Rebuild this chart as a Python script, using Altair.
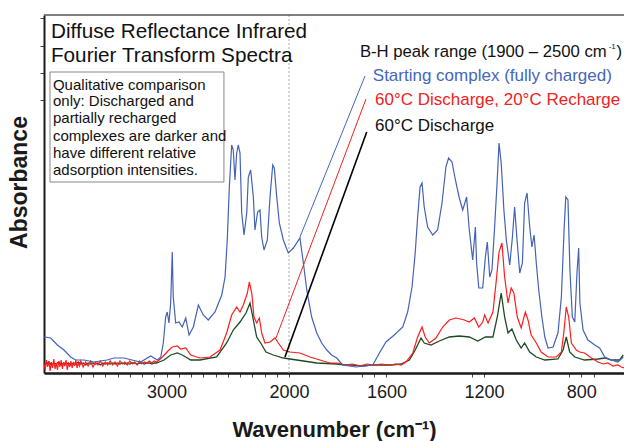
import altair as alt
import pandas as pd

# ---- spectra: (wavenumber cm-1, absorbance a.u.) ----
blue = [(4000,0.36),(3990,0.36),(3945,0.35),(3891,0.28),(3837,0.23),(3782,0.16),(3741,0.13),(3673,0.13),
        (3592,0.11),(3486,0.13),(3429,0.15),(3347,0.15),(3282,0.13),(3211,0.11),(3129,0.17),(3075,0.13),
        (3047,0.16),(3026,0.30),(3007,0.56),(2994,0.61),(2980,0.50),(2966,0.70),(2953,1.21),(2945,0.76),
        (2925,0.50),(2898,0.51),(2871,0.46),(2843,0.55),(2816,0.38),(2781,0.46),(2740,0.68),(2700,0.58),
        (2659,0.53),(2604,0.61),(2549,0.78),(2522,0.96),(2504,1.33),(2487,1.86),(2468,2.28),(2455,2.23),
        (2441,1.93),(2427,2.20),(2414,2.28),(2400,2.20),(2386,1.60),(2367,1.38),(2345,1.60),(2332,1.96),
        (2313,2.03),(2291,1.76),(2278,1.43),(2256,1.61),(2237,1.63),(2223,1.36),(2204,1.23),(2177,1.33),
        (2155,1.76),(2133,2.08),(2120,2.05),(2100,1.76),(2079,1.50),(2046,1.33),(2006,1.20),(1982,1.25),
        (1955,1.35),(1941,1.10),(1927,0.83),(1907,0.56),(1886,0.40),(1866,0.30),(1845,0.23),(1825,0.18),
        (1804,0.15),(1780,0.08),(1725,0.06),(1656,0.08),(1629,0.20),(1602,0.31),(1568,0.38),(1533,0.46),
        (1513,0.61),(1495,0.86),(1482,1.20),(1472,1.56),(1462,1.86),(1454,1.90),(1445,1.66),(1431,1.46),
        (1410,1.38),(1390,1.43),(1372,1.70),(1356,2.06),(1345,2.15),(1331,2.11),(1317,1.93),(1301,1.75),
        (1287,1.63),(1271,1.76),(1260,1.43),(1246,1.13),(1235,1.46),(1230,1.10),(1221,0.85),(1205,0.85),
        (1194,1.16),(1186,1.31),(1176,0.96),(1167,1.03),(1156,1.46),(1146,1.90),(1138,2.30),(1129,2.10),
        (1118,1.63),(1108,1.33),(1094,1.08),(1083,1.36),(1074,1.66),(1064,1.33),(1053,1.00),(1042,1.10),
        (1033,1.70),(1023,1.80),(1012,1.46),(1003,1.26),(994,1.38),(985,1.10),(975,0.83),(962,0.56),
        (950,0.36),(937,0.25),(916,0.26),(896,0.40),(882,0.76),(871,1.43),(864,1.76),(855,1.73),
        (847,1.03),(837,0.56),(827,0.51),(818,1.00),(811,1.25),(806,0.70),(793,0.43),(773,0.33),
        (745,0.28),(725,0.25),(704,0.16),(677,0.13),(650,0.11),(628,0.16)]

red = [(4000,0.09),(3990,0.03),(3980,0.13),(3970,0.06),(3960,0.12),(3950,0.02),(3940,0.11),(3930,0.05),
       (3920,0.14),(3910,0.04),(3900,0.10),(3890,0.03),(3880,0.12),(3870,0.06),(3860,0.13),(3850,0.04),
       (3840,0.11),(3830,0.07),(3820,0.13),(3810,0.03),(3800,0.10),(3790,0.06),(3780,0.12),(3770,0.05),
       (3760,0.11),(3750,0.07),(3740,0.13),(3730,0.05),(3720,0.10),(3710,0.07),(3700,0.12),(3680,0.06),
       (3660,0.11),(3640,0.07),(3620,0.12),(3600,0.06),(3580,0.11),(3560,0.08),(3540,0.12),(3520,0.07),
       (3500,0.11),(3480,0.08),(3460,0.12),(3440,0.08),(3420,0.11),(3400,0.07),(3380,0.12),(3360,0.09),
       (3340,0.11),(3320,0.08),(3300,0.12),(3280,0.09),(3260,0.11),(3240,0.08),(3220,0.12),(3200,0.09),
       (3180,0.11),(3160,0.10),(3140,0.12),(3120,0.10),(3100,0.12),(3080,0.11),(3060,0.13),(3034,0.16),
       (2980,0.23),(2953,0.26),(2912,0.27),(2884,0.24),(2843,0.25),(2802,0.18),(2727,0.15),(2645,0.16),
       (2563,0.23),(2509,0.40),(2468,0.58),(2427,0.66),(2400,0.61),(2373,0.68),(2340,0.80),(2324,0.91),
       (2304,0.80),(2286,0.56),(2264,0.50),(2242,0.55),(2223,0.40),(2196,0.30),(2155,0.31),(2114,0.35),
       (2087,0.30),(2046,0.23),(1996,0.21),(1955,0.20),(1914,0.16),(1873,0.13),(1832,0.10),(1798,0.10),
       (1770,0.08),(1740,0.09),(1710,0.07),(1680,0.09),(1650,0.08),(1620,0.09),(1590,0.08),(1560,0.09),
       (1540,0.08),(1520,0.11),(1492,0.20),(1472,0.36),(1454,0.46),(1441,0.36),(1424,0.30),(1397,0.35),
       (1369,0.46),(1342,0.53),(1315,0.55),(1280,0.53),(1260,0.51),(1239,0.55),(1221,0.46),(1205,0.51),
       (1197,0.58),(1183,0.50),(1163,0.61),(1149,0.93),(1138,1.21),(1126,1.30),(1115,0.96),(1101,0.70),
       (1088,0.85),(1077,0.80),(1063,0.56),(1047,0.45),(1030,0.61),(1019,0.53),(1006,0.38),(985,0.30),
       (965,0.21),(937,0.16),(903,0.16),(882,0.21),(871,0.43),(862,0.66),(852,0.56),(841,0.30),
       (821,0.23),(807,0.21),(787,0.20),(759,0.15),(732,0.11),(710,0.09),(691,0.10),(670,0.07),
       (650,0.08),(636,0.06),(625,0.05)]

black = [(4000,0.10),(3980,0.09),(3960,0.11),(3940,0.08),(3920,0.10),(3900,0.09),(3880,0.11),(3860,0.08),
         (3840,0.10),(3820,0.09),(3800,0.10),(3780,0.08),(3760,0.10),(3740,0.09),(3720,0.11),(3700,0.09),
         (3680,0.10),(3660,0.08),(3640,0.10),(3620,0.09),(3600,0.10),(3580,0.09),(3560,0.10),(3540,0.08),
         (3520,0.10),(3500,0.09),(3480,0.10),(3460,0.09),(3440,0.10),(3420,0.09),(3400,0.10),(3380,0.09),
         (3360,0.10),(3340,0.09),(3320,0.10),(3300,0.09),(3280,0.10),(3260,0.10),(3240,0.09),(3220,0.10),
         (3200,0.10),(3180,0.09),(3160,0.10),(3140,0.10),(3120,0.09),(3100,0.10),(3080,0.10),(3060,0.11),
         (3020,0.13),(2966,0.18),(2912,0.20),(2871,0.18),(2802,0.13),(2727,0.13),(2590,0.16),(2509,0.30),
         (2455,0.43),(2400,0.51),(2351,0.60),(2318,0.70),(2291,0.53),(2264,0.36),(2231,0.30),(2188,0.21),
         (2128,0.18),(2046,0.15),(1968,0.13),(1886,0.10),(1804,0.09),(1770,0.08),(1740,0.08),(1700,0.07),
         (1660,0.08),(1620,0.08),(1580,0.08),(1540,0.09),(1506,0.13),(1482,0.23),(1458,0.35),(1445,0.30),
         (1417,0.28),(1383,0.32),(1342,0.36),(1301,0.37),(1260,0.36),(1225,0.32),(1194,0.36),(1183,0.36),
         (1163,0.36),(1145,0.56),(1129,0.80),(1115,0.56),(1101,0.40),(1085,0.44),(1067,0.33),(1047,0.25),
         (1033,0.30),(1012,0.21),(985,0.16),(950,0.13),(896,0.14),(875,0.23),(862,0.36),(848,0.21),
         (827,0.16),(787,0.13),(732,0.14),(704,0.15),(677,0.13),(643,0.13),(628,0.18)]

major_ticks = [3000, 2000, 1600, 1200, 800]
minor_ticks = [3700, 3600, 3500, 3400, 3300, 3200, 3100, 2900, 2800, 2700, 2600, 2500, 2400,
               2300, 2200, 2100, 1700, 1650, 1250, 850, 750]
y_ticks = [2.73, 3.00, 3.27, 3.55]

title_lines = ["Diffuse Reflectance Infrared", "Fourier Transform Spectra"]
note_lines = ["Qualitative comparison", "only: Discharged and", "partially recharged",
              "complexes are darker and", "have different relative", "adsorption intensities."]
# header of the legend, split so its "-1" can be a small superscript
head_text, head_wn, head_a = ["B-H peak range (1900 \u2013 2500 cm"], [1709], [3.21]
sup_text, sup_wn, sup_a = ["-1"], [688], [3.26]
close_text, close_wn, close_a = [")"], [656], [3.21]
legend_lines = ["Starting complex (fully charged)",
                "60\u00b0C Discharge, 20\u00b0C Recharge", "60\u00b0C Discharge"]

# annotation anchors in data coordinates
title_wn, title_a = [3943, 3943], [3.41, 3.17]
note_wn, note_a = 3927, [2.88, 2.72, 2.55, 2.37, 2.20, 2.03]
box = {"wn": [3951], "wn2": [2531], "a": [3.01], "a2": [1.91]}
legend_wn = [1656, 1647, 1647]
legend_a = [2.97, 2.73, 2.47]
legend_colors = ["#4466bb", "#ee2222", "#111111"]
leader_wn = [1688, 1684, 1681]
leader_a = [2.97, 2.74, 2.41]
leader_wn2 = [1955, 2106, 2033]
leader_a2 = [1.36, 0.35, 0.16]
leader_colors = ["#4466bb", "#ee2222", "#000000"]
leader_widths = [1.0, 1.0, 1.6]

FONT = "Liberation Sans"
BLUE = "#4462b6"
RED = "#ff1c1c"
GREEN = "#1d4a22"

def frame(pairs):
    return pd.DataFrame(pairs, columns=["wn", "a"])

x_scale = alt.Scale(domain=[4000, 2000, 625], range=[0, 245, 580], zero=False, nice=False)
y_scale = alt.Scale(domain=[0, 3.58], zero=False, nice=False)

major_str = ",".join(str(v) for v in major_ticks)
x_axis = alt.Axis(values=major_ticks + minor_ticks, format="d",
                  labelExpr=f"indexof([{major_str}], datum.value) >= 0 ? datum.label : ''",
                  title="Wavenumber (cm\u207b\u00b9)", titleFont=FONT, titleFontSize=22,
                  titleFontWeight="bold", titleColor="#1a1a1a", titleY=63, titleBaseline="alphabetic",
                  labelFont=FONT, labelFontSize=18, labelColor="#1a1a1a", labelPadding=6,
                  labelOverlap=False, labelFlush=False, tickSize=4, tickColor="#444",
                  domainColor="#1a1a1a", domainWidth=2.5, grid=False)
y_axis = alt.Axis(values=y_ticks, labels=False, tickSize=4, tickColor="#444",
                  title="Absorbance", titleFont=FONT, titleFontSize=23, titleFontWeight="bold",
                  titleColor="#1a1a1a", titleX=-25, titleY=167, titleAlign="center",
                  titleBaseline="middle", titleAngle=270, domainColor="#1a1a1a", domainWidth=2,
                  grid=False)

X = alt.X("wn:Q", scale=x_scale, axis=x_axis)
Y = alt.Y("a:Q", scale=y_scale, axis=y_axis)

dash = alt.Chart(pd.DataFrame({"wn": [2000]})).mark_rule(
    color="#aaaaaa", strokeDash=[2, 2], strokeWidth=1).encode(x=X)
top = alt.Chart(pd.DataFrame({"a": [3.58]})).mark_rule(
    color="#555555", strokeWidth=1.5).encode(y=Y)

l_black = alt.Chart(frame(black)).mark_line(color=GREEN, strokeWidth=1.3).encode(x=X, y=Y)
l_red = alt.Chart(frame(red)).mark_line(color=RED, strokeWidth=1.2).encode(x=X, y=Y)
l_blue = alt.Chart(frame(blue)).mark_line(color=BLUE, strokeWidth=1.2).encode(x=X, y=Y)

box_l = alt.Chart(pd.DataFrame(box)).mark_rect(fill="white", stroke="#888888", strokeWidth=1).encode(
    x=X, x2="wn2", y=Y, y2="a2")


def text_layer(wn, a, labels, size, color="#111111"):
    df = pd.DataFrame({"wn": wn, "a": a, "label": labels})
    return alt.Chart(df).mark_text(align="left", baseline="middle", font=FONT, fontSize=size,
                                   color=color).encode(x=X, y=Y, text="label:N")


note_t = text_layer([note_wn] * len(note_lines), note_a, note_lines, 15)
title_t = text_layer(title_wn, title_a, title_lines, 20.7)
head_t = text_layer(head_wn, head_a, head_text, 16.7)
sup_t = text_layer(sup_wn, sup_a, sup_text, 8)
close_t = text_layer(close_wn, close_a, close_text, 16.7)

leg_df = pd.DataFrame({"wn": legend_wn, "a": legend_a, "label": legend_lines, "c": legend_colors})
leg_t = alt.Chart(leg_df).mark_text(align="left", baseline="middle", font=FONT, fontSize=17).encode(
    x=X, y=Y, text="label:N", color=alt.Color("c:N", scale=None))

lead_df = pd.DataFrame({"wn": leader_wn, "a": leader_a, "wn2": leader_wn2, "a2": leader_a2,
                        "c": leader_colors, "w": leader_widths})
leads = alt.Chart(lead_df).mark_rule().encode(
    x=X, y=Y, x2="wn2", y2="a2", color=alt.Color("c:N", scale=None),
    strokeWidth=alt.StrokeWidth("w:Q", scale=None))

chart = alt.layer(dash, top, l_black, l_red, l_blue, box_l, note_t, title_t, head_t, sup_t, close_t,
                  leg_t, leads).properties(
    width=580, height=358, autosize="none",
    padding={"left": 44, "top": 15, "right": 0, "bottom": 68},
    background="white",
).configure_view(strokeWidth=0)

chart.save("out.html", embed_options={"renderer": "svg", "actions": False})
